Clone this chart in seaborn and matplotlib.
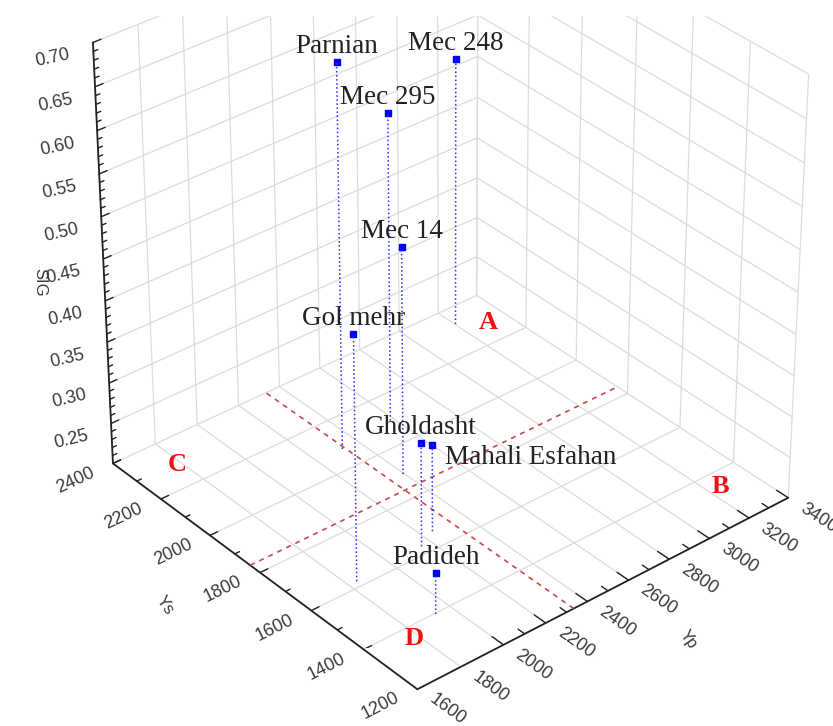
import numpy as np
import matplotlib
matplotlib.use('Agg')
import matplotlib.pyplot as plt
import seaborn as sns
from matplotlib.patches import Rectangle
from matplotlib.transforms import offset_copy

# Data
cultivars = ['Parnian', 'Mec 248', 'Mec 295', 'Mec 14', 'Gol mehr',
             'Gholdasht', 'Mahali Esfahan', 'Padideh']
ys = [2078, 2331, 2097, 1895, 1621, 1630, 1661, 1397]
yp = [2323, 3203, 2582, 2395, 1837, 2155, 2246, 1931]
sig = [0.663, 0.530, 0.574, 0.476, 0.495, 0.326, 0.306, 0.250]

yp_ticks = [1600, 1800, 2000, 2200, 2400, 2600, 2800, 3000, 3200, 3400]
ys_ticks = [1200, 1400, 1600, 1800, 2000, 2200, 2400]
sig_ticks = [0.25, 0.30, 0.35, 0.40, 0.45, 0.50, 0.55, 0.60, 0.65, 0.70]
quadrants = ['A', 'B', 'C', 'D']

sns.set_theme(style='white')
plt.rcParams['font.family'] = ['Liberation Sans', 'DejaVu Sans']

fig = plt.figure(figsize=(8.33, 7.26), dpi=100)
ax = fig.add_axes([0.027, 0.107, 1.0, 1.0], projection='3d')
ax.set_proj_type('persp', focal_length=1.2)
ax.view_init(elev=33, azim=-130)

xmin, xmax = 1600, 3400
ymin, ymax = 1200, 2400
zmin, zmax = 0.20, 0.70
ax.set_xlim(xmin, xmax)
ax.set_ylim(ymin, ymax)
ax.set_zlim(zmin, zmax)
ax.set_box_aspect((1, 1, 1.02), zoom=1.15)

for axis in (ax.xaxis, ax.yaxis, ax.zaxis):
    axis.set_pane_color((1, 1, 1, 0))
    axis.pane.set_edgecolor('#d8d8d8')
    axis._axinfo['grid'].update(color='#dcdcdc', linewidth=0.9)
    axis.line.set_color('#222222')
    axis.line.set_linewidth(1.3)
    axis._axinfo['tick']['inward_factor'] = 0.0
    axis._axinfo['tick']['outward_factor'] = 0.0

ax.set_xticks(yp_ticks)
ax.set_yticks(ys_ticks)
ax.set_zticks(sig_ticks)
ax.set_xticklabels([])
ax.set_yticklabels([])
ax.set_zticklabels([])


def px_offset(dx, dy):
    # shift in screen pixels (y down, like the image)
    return offset_copy(ax.transData, fig=fig, x=dx * 0.72, y=-dy * 0.72,
                       units='points')


# tick labels, slanted along the floor edges like the original
tick_kw = dict(fontsize=13, color='#3a3a3a', ha='center', va='center')
for t in yp_ticks:
    ax.text(t, ymin, zmin, str(t), zdir='y',
            transform=px_offset(30, 20), **tick_kw)
for t in ys_ticks:
    ax.text(xmin, t, zmin, str(t), zdir='x',
            transform=px_offset(-37, 17), **tick_kw)
for t in sig_ticks:
    ax.text(xmin, ymax, t, '%.2f' % t, zdir=(xmax - xmin, -0.3 * (ymax - ymin), 0),
            transform=px_offset(-40, 16), **tick_kw)

# tick marks pointing into the box, major and minor
tick_col = '#222222'
for t in np.arange(xmin, xmax + 1, 100):
    ln = 0.035 if t % 200 == 0 else 0.02
    ax.plot([t, t], [ymin, ymin + ln * (ymax - ymin)], [zmin, zmin],
            color=tick_col, lw=1)
for t in np.arange(ymin, ymax + 1, 100):
    ln = 0.02 if t % 200 == 0 else 0.012
    ax.plot([xmin, xmin + ln * (xmax - xmin)], [t, t], [zmin, zmin],
            color=tick_col, lw=1)
for t in np.arange(0.20, 0.7001, 0.01):
    major = abs(round(t / 0.05) * 0.05 - t) < 1e-6
    ln = 0.02 if major else 0.011
    ax.plot([xmin, xmin + ln * (xmax - xmin)], [ymax, ymax], [t, t],
            color=tick_col, lw=1)

# axis titles
fig.text(40 / 833, 1 - 282 / 726, 'SIG', rotation=270, fontsize=12,
         color='#3a3a3a', ha='center', va='center')
fig.text(165 / 833, 1 - 605 / 726, 'Ys', rotation=-55, fontsize=12,
         color='#3a3a3a', ha='center', va='center')
fig.text(688 / 833, 1 - 640 / 726, 'Yp', rotation=-55, fontsize=12,
         color='#3a3a3a', ha='center', va='center')

# mean lines on the floor
yp_mean = np.mean(yp)
ys_mean = np.mean(ys)
ax.plot([xmin, xmax], [ys_mean, ys_mean], [zmin, zmin], color='#c8494a',
        ls=(0, (3, 3)), lw=1.2)
ax.plot([yp_mean, yp_mean], [ymin, ymax], [zmin, zmin], color='#c8494a',
        ls=(0, (3, 3)), lw=1.2)

# drop lines and points
for x, y, z in zip(yp, ys, sig):
    ax.plot([x, x], [y, y], [zmin, z], color='#2b2bff', ls=':', lw=1.1)
ax.scatter(yp, ys, sig, marker='s', s=24, c='#0000ff', depthshade=False)

lab_tr = offset_copy(ax.transData, fig=fig, x=0, y=6.5, units='points')
right_tr = offset_copy(ax.transData, fig=fig, x=9.4, y=-13.7, units='points')
for name, x, y, z in zip(cultivars, yp, ys, sig):
    if name == 'Mahali Esfahan':
        ax.text(x, y, z, name, ha='left', va='baseline', fontsize=19.5,
                family='Liberation Serif', color='#222222', transform=right_tr)
    else:
        ax.text(x, y, z, name, ha='center', va='baseline', fontsize=19.5,
                family='Liberation Serif', color='#222222', transform=lab_tr)

# quadrant letters on the floor
qpos = [(0.95, 0.90), (0.92, 0.12), (0.10, 0.91), (0.10, 0.13)]
for q, (fx, fy) in zip(quadrants, qpos):
    ax.text(xmin + fx * (xmax - xmin), ymin + fy * (ymax - ymin), zmin, q,
            ha='center', va='center', fontsize=19, fontweight='bold',
            family='Liberation Serif', color='#ee1111')

# plot area is clipped just below the top edge
fig.patches.append(Rectangle((0, 1 - 15 / 726), 1, 15 / 726,
                             transform=fig.transFigure, color='white', zorder=10))

fig.savefig('out.png', dpi=100)
